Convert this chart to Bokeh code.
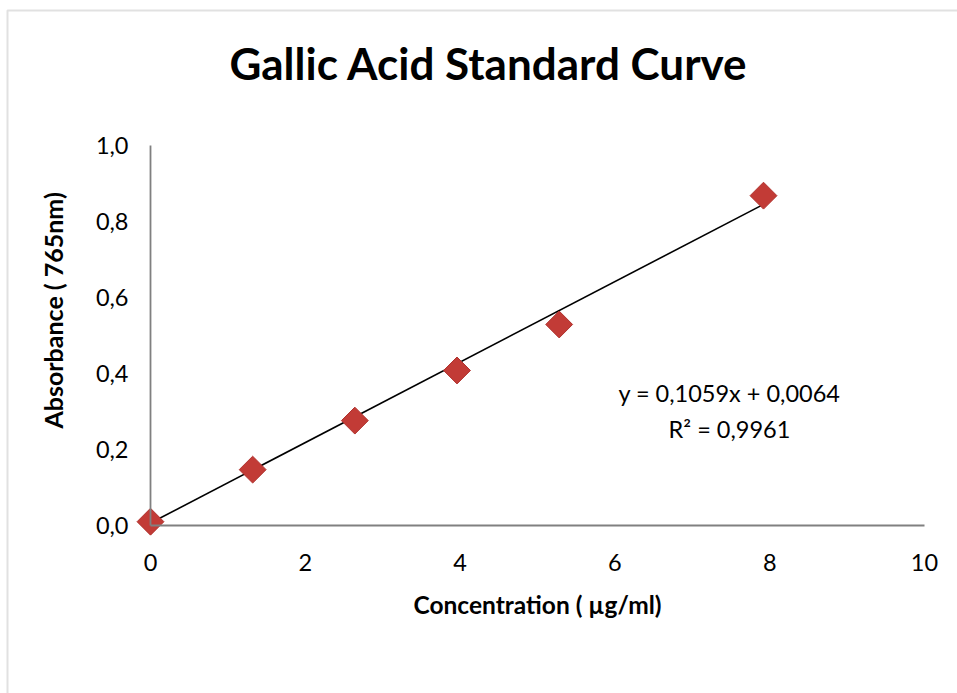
import numpy as np
from bokeh.plotting import figure
from bokeh.models import Label, FixedTicker, Range1d, LinearAxis, BoxAnnotation
from bokeh.embed import file_html
from bokeh.resources import INLINE

# ---- data ----
concentration = [0.0, 1.32, 2.64, 3.96, 5.28, 7.92]
absorbance = [0.010, 0.147, 0.276, 0.408, 0.529, 0.868]
fit_slope = 0.1059
fit_intercept = 0.0064
x_ticks = [0, 2, 4, 6, 8, 10]
x_tick_labels = ["0", "2", "4", "6", "8", "10"]
y_ticks = [0.0, 0.2, 0.4, 0.6, 0.8, 1.0]
y_tick_labels = ["0,0", "0,2", "0,4", "0,6", "0,8", "1,0"]
title_text = "Gallic Acid Standard Curve"
x_label = "Concentration ( µg/ml)"
y_label = "Absorbance ( 765nm)"
eq_text = "y = 0,1059x + 0,0064"
r2_text = "R² = 0,9961"

FONT = "Lato"
W, H = 957, 693

p = figure(
    output_backend="svg",
    toolbar_location=None,
    width=W, height=H,
    x_range=Range1d(-150 / 77.4, (W - 150) / 77.4),
    y_range=Range1d((525 - H) / 380, 525 / 380),
    min_border=0,
    x_axis_location=None,
    y_axis_location=None,
)
p.outline_line_color = None
p.xgrid.visible = False
p.ygrid.visible = False
p.background_fill_color = "white"
p.border_fill_color = "white"

# chart-area border (only left/top visible in the reference)
p.add_layout(BoxAnnotation(left=7, top=10, right=3000, bottom=3000,
                           left_units="canvas", top_units="canvas",
                           right_units="canvas", bottom_units="canvas",
                           fill_color=None, line_color="#9a9a9a", line_width=2))

xaxis = LinearAxis(fixed_location=0, bounds=(0, 10))
yaxis = LinearAxis(fixed_location=0, bounds=(0, 1))
p.add_layout(xaxis, "below")
p.add_layout(yaxis, "left")

for ax in (xaxis, yaxis):
    ax.axis_line_color = "#808080"
    ax.axis_line_width = 1.8
    ax.major_tick_line_color = None
    ax.minor_tick_line_color = None
    ax.major_tick_out = 0
    ax.major_tick_in = 0
    ax.minor_tick_out = 0
    ax.minor_tick_in = 0
    ax.major_label_text_font = FONT
    ax.major_label_text_font_size = "23.5px"
    ax.major_label_text_color = "black"

xaxis.ticker = FixedTicker(ticks=x_ticks)
xaxis.major_label_overrides = {t: l for t, l in zip(x_ticks, x_tick_labels)}
xaxis.major_label_standoff = 28
yaxis.ticker = FixedTicker(ticks=y_ticks)
yaxis.major_label_overrides = {t: l for t, l in zip(y_ticks, y_tick_labels)}
yaxis.major_label_standoff = 22

# trend line
x_fit = np.array([min(concentration), max(concentration)])
y_fit = fit_slope * x_fit + fit_intercept
p.line(x_fit, y_fit, line_color="black", line_width=1.6)

# markers
p.scatter(concentration, absorbance, marker="square", angle=np.pi / 4, size=19,
          fill_color="#C23B36", line_color="#B0322E", line_width=1)

# equation
p.add_layout(Label(x=7.48, y=0.35, text=eq_text, text_font=FONT, text_font_size="23.5px",
                   text_align="center", text_baseline="middle", text_color="black"))
p.add_layout(Label(x=7.48, y=0.255, text=r2_text, text_font=FONT, text_font_size="23.5px",
                   text_align="center", text_baseline="middle", text_color="black"))

# title
p.add_layout(Label(x=4.37, y=1.218, text=title_text, text_font=FONT, text_font_size="44px",
                   text_font_style="bold", text_align="center", text_baseline="middle",
                   text_color="black"))
# axis labels
p.add_layout(Label(x=5.0, y=-0.208, text=x_label, text_font=FONT, text_font_size="24.5px",
                   text_font_style="bold", text_align="center", text_baseline="middle",
                   text_color="black"))
p.add_layout(Label(x=-1.266, y=0.566, text=y_label, text_font=FONT, text_font_size="25px",
                   text_font_style="bold", text_align="center", text_baseline="middle",
                   angle=np.pi / 2, text_color="black"))

open("out.html", "w").write(file_html(p, INLINE))
